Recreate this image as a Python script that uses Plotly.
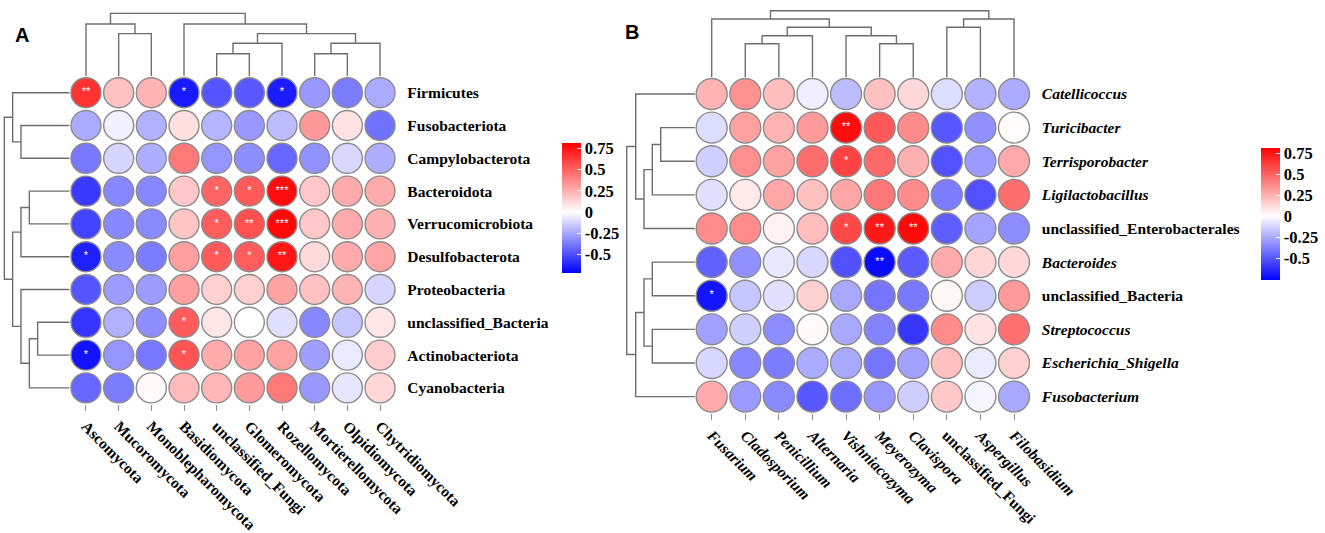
import plotly.graph_objects as go

W, H = 1325, 533

# ---------------- Panel A data ----------------
a_rows = ["Firmicutes", "Fusobacteriota", "Campylobacterota", "Bacteroidota", "Verrucomicrobiota",
          "Desulfobacterota", "Proteobacteria", "unclassified_Bacteria", "Actinobacteriota", "Cyanobacteria"]
a_cols = ["Ascomycota", "Mucoromycota", "Monoblepharomycota", "Basidiomycota", "unclassified_Fungi",
          "Glomeromycota", "Rozellomycota", "Mortierellomycota", "Olpidiomycota", "Chytridiomycota"]
a_vals = [
    [0.66, 0.20, 0.24, -0.65, -0.48, -0.47, -0.64, -0.29, -0.37, -0.24],
    [-0.24, -0.04, -0.22, 0.10, -0.21, -0.29, -0.19, 0.33, 0.09, -0.40],
    [-0.38, -0.12, -0.23, 0.43, -0.30, -0.32, -0.43, -0.31, -0.11, -0.23],
    [-0.56, -0.34, -0.34, 0.18, 0.50, 0.53, 0.78, 0.18, 0.27, 0.27],
    [-0.53, -0.34, -0.33, 0.19, 0.52, 0.56, 0.79, 0.18, 0.27, 0.25],
    [-0.63, -0.33, -0.37, 0.31, 0.53, 0.52, 0.75, 0.12, 0.27, 0.29],
    [-0.48, -0.28, -0.28, 0.31, 0.15, 0.15, 0.30, 0.20, 0.24, -0.12],
    [-0.57, -0.22, -0.32, 0.52, 0.08, 0.00, -0.09, -0.34, -0.16, 0.08],
    [-0.67, -0.30, -0.38, 0.55, 0.27, 0.30, 0.30, -0.27, -0.06, 0.16],
    [-0.43, -0.37, 0.02, 0.22, 0.23, 0.32, 0.43, -0.29, -0.07, 0.13],
]
a_sig = [
    ["**", "", "", "*", "", "", "*", "", "", ""],
    ["", "", "", "", "", "", "", "", "", ""],
    ["", "", "", "", "", "", "", "", "", ""],
    ["", "", "", "", "*", "*", "***", "", "", ""],
    ["", "", "", "", "*", "**", "***", "", "", ""],
    ["*", "", "", "", "*", "*", "**", "", "", ""],
    ["", "", "", "", "", "", "", "", "", ""],
    ["", "", "", "*", "", "", "", "", "", ""],
    ["*", "", "", "*", "", "", "", "", "", ""],
    ["", "", "", "", "", "", "", "", "", ""],
]
# linkage: (child a, child b, height); new clusters numbered from 10
a_top_link = [(4, 5, 2.25), (7, 8, 2.25), (10, 6, 3.3), (11, 9, 3.3), (1, 2, 4.27),
              (12, 13, 4.27), (0, 14, 5.23), (3, 15, 5.23), (16, 17, 6.29)]
a_left_link = [(7, 8, 3.2), (3, 4, 4.03), (11, 5, 4.87), (10, 9, 4.03), (6, 13, 4.87),
               (1, 2, 4.87), (0, 15, 5.7), (12, 14, 5.7), (16, 17, 6.53)]
a_crange = (-0.72, 0.82)

# ---------------- Panel B data ----------------
b_rows = ["<i>Catellicoccus</i>", "<i>Turicibacter</i>", "<i>Terrisporobacter</i>", "<i>Ligilactobacillus</i>",
          "unclassified_Enterobacterales", "<i>Bacteroides</i>", "unclassified_Bacteria",
          "<i>Streptococcus</i>", "<i>Escherichia_Shigella</i>", "<i>Fusobacterium</i>"]
b_cols = ["<i>Fusarium</i>", "<i>Cladosporium</i>", "<i>Penicillium</i>", "<i>Alternaria</i>",
          "<i>Vishniacozyma</i>", "<i>Meyerozyma</i>", "<i>Clavispora</i>", "unclassified_Fungi",
          "<i>Aspergillus</i>", "<i>Filobasidium</i>"]
b_vals = [
    [0.24, 0.35, 0.21, -0.05, -0.20, 0.20, 0.12, -0.10, -0.23, -0.25],
    [-0.10, 0.30, 0.24, 0.32, 0.77, 0.53, 0.37, -0.50, -0.33, 0.01],
    [-0.14, 0.36, 0.30, 0.46, 0.60, 0.48, 0.25, -0.52, -0.30, 0.27],
    [-0.09, 0.07, 0.28, 0.20, 0.28, 0.43, 0.37, -0.39, -0.52, 0.46],
    [0.37, 0.37, 0.04, 0.21, 0.58, 0.73, 0.78, -0.48, -0.27, -0.34],
    [-0.47, -0.33, -0.07, -0.12, -0.52, -0.73, -0.49, 0.27, 0.13, 0.12],
    [-0.70, -0.17, -0.09, 0.15, -0.26, -0.41, -0.40, 0.03, -0.15, 0.32],
    [-0.28, -0.14, -0.34, 0.02, -0.26, -0.37, -0.60, 0.37, 0.09, 0.45],
    [-0.12, -0.36, -0.39, -0.25, -0.26, -0.41, -0.28, 0.20, -0.06, 0.15],
    [0.27, -0.30, -0.35, -0.50, -0.43, -0.31, -0.15, 0.17, -0.03, -0.26],
]
b_sig = [
    ["", "", "", "", "", "", "", "", "", ""],
    ["", "", "", "", "**", "", "", "", "", ""],
    ["", "", "", "", "*", "", "", "", "", ""],
    ["", "", "", "", "", "", "", "", "", ""],
    ["", "", "", "", "*", "**", "**", "", "", ""],
    ["", "", "", "", "", "**", "", "", "", ""],
    ["*", "", "", "", "", "", "", "", "", ""],
    ["", "", "", "", "", "", "", "", "", ""],
    ["", "", "", "", "", "", "", "", "", ""],
    ["", "", "", "", "", "", "", "", "", ""],
]
b_top_link = [(1, 2, 3.35), (5, 6, 3.35), (10, 3, 4.15), (4, 11, 4.15), (12, 13, 4.99),
              (7, 8, 4.99), (0, 14, 5.82), (15, 9, 5.82), (16, 17, 6.65)]
b_left_link = [(1, 2, 3.42), (10, 3, 4.26), (11, 4, 5.09), (0, 12, 5.92), (5, 6, 4.26),
               (7, 8, 4.26), (14, 15, 5.09), (16, 9, 5.92), (13, 17, 6.82)]
b_crange = (-0.76, 0.81)

tick_vals = [-0.5, -0.25, 0, 0.25, 0.5, 0.75]
tick_text = ["-0.5", "-0.25", "0", "0.25", "0.5", "0.75"]

SERIF = "Liberation Serif"
LINE_COL = "#6e6e6e"
LABEL_SIZE = 15.5


def fx(px):
    return px / W


def fy(py):
    return 1 - py / H


def dendro(link, n):
    pos = [float(i) for i in range(n)]
    hgt = [0.0] * n
    ps, hs = [], []
    for a, b, h in link:
        ps += [pos[a], pos[a], pos[b], pos[b], None]
        hs += [hgt[a], h, h, hgt[b], None]
        pos.append((pos[a] + pos[b]) / 2)
        hgt.append(h)
    return ps, hs


def cscale(lo, hi):
    z = (0 - lo) / (hi - lo)
    return [[0, "#0000ff"], [z, "#ffffff"], [1, "#ff0000"]]


fig = go.Figure()
layout = dict(width=W, height=H, margin=dict(l=0, r=0, t=0, b=0, autoexpand=False),
              paper_bgcolor="white", plot_bgcolor="white", showlegend=False)

hidden = dict(visible=False, showgrid=False, zeroline=False, fixedrange=True, automargin=False)


def add_panel(k, rows, cols, vals, sig, top_link, left_link, crange, cax,
              box, top_dom, top_rng_pad, left_dom, left_pad, msize, cb_box):
    mx, tx, lx = k, k + 1, k + 2
    name = lambda i: "" if i == 1 else str(i)
    x0, x1, y0, y1 = box
    n = len(cols)
    xs, ys, cs, ts = [], [], [], []
    for i in range(len(rows)):
        for j in range(n):
            xs.append(j)
            ys.append(i)
            cs.append(vals[i][j])
            ts.append(sig[i][j])
    fig.add_trace(go.Scatter(
        x=xs, y=ys, mode="markers+text", text=ts, textposition="middle center",
        textfont=dict(color="white", size=11, family="Liberation Sans"),
        marker=dict(size=msize, color=cs, coloraxis=cax, line=dict(color="#8c8c8c", width=1.4)),
        xaxis="x" + name(mx), yaxis="y" + name(mx), hoverinfo="skip", cliponaxis=False))
    p, h = dendro(top_link, n)
    fig.add_trace(go.Scatter(x=p, y=h, mode="lines", line=dict(color=LINE_COL, width=1.4),
                             xaxis="x" + name(tx), yaxis="y" + name(tx), hoverinfo="skip"))
    p, h = dendro(left_link, len(rows))
    fig.add_trace(go.Scatter(x=h, y=p, mode="lines", line=dict(color=LINE_COL, width=1.4),
                             xaxis="x" + name(lx), yaxis="y" + name(lx), hoverinfo="skip"))

    root_top = top_link[-1][2]
    root_left = left_link[-1][2]
    layout["xaxis" + name(mx)] = dict(
        domain=[fx(x0), fx(x1)], range=[-0.5, n - 0.5], anchor="y" + name(mx), automargin=False,
        tickmode="array", tickvals=list(range(n)), ticktext=cols, tickangle=45,
        ticks="outside", ticklen=6, tickcolor="#8c8c8c", tickwidth=1,
        showline=False, showgrid=False, zeroline=False,
        tickfont=dict(family=SERIF, size=LABEL_SIZE, color="black", weight="bold"))
    layout["yaxis" + name(mx)] = dict(
        domain=[fy(y1), fy(y0)], range=[len(rows) - 0.5, -0.5], anchor="x" + name(mx),
        automargin=False, side="right", tickmode="array", tickvals=list(range(len(rows))),
        ticktext=rows, ticks="", ticklabelstandoff=10, showline=False, showgrid=False,
        zeroline=False, tickfont=dict(family=SERIF, size=LABEL_SIZE, color="black", weight="bold"))
    layout["xaxis" + name(tx)] = dict(hidden, domain=[fx(x0), fx(x1)], range=[-0.5, n - 0.5],
                                      anchor="y" + name(tx))
    layout["yaxis" + name(tx)] = dict(hidden, domain=[fy(y0), fy(top_dom)],
                                      range=[0, root_top * top_rng_pad], anchor="x" + name(tx))
    layout["xaxis" + name(lx)] = dict(hidden, domain=[fx(left_dom), fx(x0)],
                                      range=[root_left * left_pad, 0], anchor="y" + name(lx))
    layout["yaxis" + name(lx)] = dict(hidden, domain=[fy(y1), fy(y0)],
                                      range=[len(rows) - 0.5, -0.5], anchor="x" + name(lx))
    cbx, cby0, cby1 = cb_box
    layout["coloraxis" + ("" if cax == "coloraxis" else cax[-1])] = dict(
        cmin=crange[0], cmax=crange[1], colorscale=cscale(*crange),
        colorbar=dict(x=fx(cbx), xanchor="left", xpad=0, ypad=0,
                      y=fy((cby0 + cby1) / 2), yanchor="middle",
                      lenmode="pixels", len=cby1 - cby0, thickness=19, thicknessmode="pixels",
                      outlinewidth=0, tickmode="array", tickvals=tick_vals, ticktext=tick_text,
                      ticks="inside", ticklen=4, tickcolor="white", tickwidth=1,
                      tickfont=dict(family=SERIF, size=16.5, color="black", weight="bold")))


add_panel(1, a_rows, a_cols, a_vals, a_sig, a_top_link, a_left_link, a_crange, "coloraxis",
          box=(69.65, 396.35, 76.3, 404.3), top_dom=5, top_rng_pad=71.3 / 62.9,
          left_dom=0, left_pad=69.65 / 65.3, msize=30, cb_box=(562, 142.7, 272.7))
add_panel(4, b_rows, b_cols, b_vals, b_sig, b_top_link, b_left_link, b_crange, "coloraxis2",
          box=(694.9, 1030.8, 77.2, 413.4), top_dom=5, top_rng_pad=72.2 / 66.5,
          left_dom=620, left_pad=74.9 / 68.2, msize=31, cb_box=(1261, 148.3, 280))

layout["annotations"] = [
    dict(text="<b>A</b>", x=fx(13), y=fy(22), xref="paper", yref="paper", showarrow=False,
         font=dict(family="Liberation Sans", size=20, color="black")),
    dict(text="<b>B</b>", x=fx(632), y=fy(19), xref="paper", yref="paper", showarrow=False,
         font=dict(family="Liberation Sans", size=20, color="black")),
]

fig.update_layout(**layout)
fig.write_html("out.html", config={"displayModeBar": False},
               post_script="document.body.style.margin='0';document.body.style.overflow='hidden';")
